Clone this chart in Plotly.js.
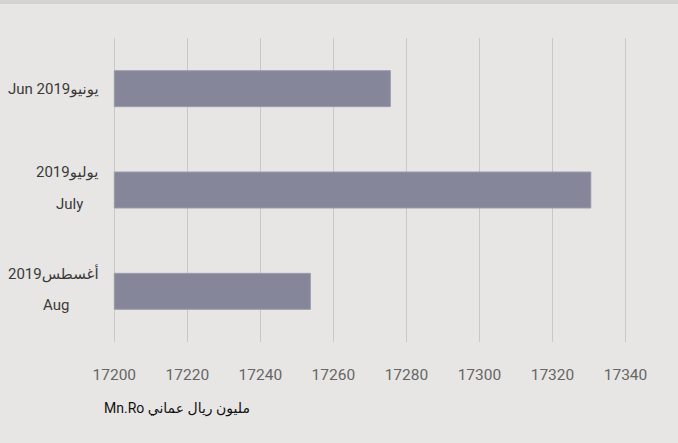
<!DOCTYPE html>
<html>
<head>
<meta charset="utf-8">
<script src="https://cdn.plot.ly/plotly-3.0.1.min.js"></script>
<style>
html,body{margin:0;padding:0;background:#e7e6e4;}
#wrap{width:678px;height:443px;border-top:4px solid #d4d2d2;box-sizing:border-box;}
#chart{width:678px;height:439px;}
</style>
</head>
<body>
<div id="wrap"><div id="chart"></div></div>
<script>
// Data
const categories = ["Jun", "July", "Aug"];
const values = [17275.6, 17330.5, 17253.7];
const labelLine1 = ["Jun 2019يونيو", "يوليو2019", "أغسطس2019"];
const labelLine2 = ["", "July", "Aug"];
const xTicks = [17200, 17220, 17240, 17260, 17280, 17300, 17320, 17340];
const axisTitle = "Mn.Ro مليون ريال عماني";
const axisBase = 17200;

const FONT = "Roboto, 'DejaVu Sans', sans-serif";
const LABEL_SIZE = 15;

function textWidth(t, size) {
  const c = document.createElement('canvas').getContext('2d');
  c.font = size + "px " + FONT;
  return c.measureText(t).width;
}

const annotations = [];
categories.forEach((cat, i) => {
  const two = labelLine2[i] !== "";
  annotations.push({
    xref: 'paper', yref: 'y', x: 0, y: cat,
    xanchor: 'right', yanchor: 'middle', xshift: -6,
    yshift: two ? 18 : 0,
    text: labelLine1[i], showarrow: false,
    font: {family: FONT, size: LABEL_SIZE, color: '#3a3a3a'}
  });
  if (two) {
    const w = textWidth(labelLine1[i], LABEL_SIZE);
    annotations.push({
      xref: 'paper', yref: 'y', x: 0, y: cat,
      xanchor: 'center', yanchor: 'middle', xshift: -6 - w / 2,
      yshift: -14,
      text: labelLine2[i], showarrow: false,
      font: {family: FONT, size: LABEL_SIZE, color: '#3a3a3a'}
    });
  }
});
annotations.push({
  xref: 'paper', yref: 'paper', x: 0, y: 0,
  xanchor: 'left', yanchor: 'middle', xshift: -5, yshift: -66,
  text: axisTitle, showarrow: false,
  font: {family: FONT, size: 14, color: '#111'}
});

const trace = {
  type: 'bar', orientation: 'h',
  base: axisBase,
  x: values.map(v => v - axisBase), y: categories,
  marker: {color: '#86869a', line: {color: '#9b9bac', width: 1}},
  hoverinfo: 'skip'
};

const layout = {
  width: 678, height: 439,
  margin: {l: 107, r: 16, t: 34, b: 101},
  paper_bgcolor: '#e7e6e4', plot_bgcolor: '#e7e6e4',
  showlegend: false,
  bargap: 0.645,
  font: {family: FONT},
  xaxis: {
    range: [17198, 17350],
    tickvals: xTicks, ticktext: xTicks.map(String),
    showgrid: true, gridcolor: '#c8c8c8', gridwidth: 1,
    zeroline: false, showline: false,
    ticks: '', ticklabelstandoff: 21,
    tickfont: {family: FONT, size: 15.5, color: '#666'}
  },
  yaxis: {
    type: 'category', categoryorder: 'array', categoryarray: categories,
    autorange: 'reversed',
    showticklabels: false, showgrid: false, zeroline: false, showline: false, ticks: ''
  },
  annotations: annotations
};

Plotly.newPlot('chart', [trace], layout, {displayModeBar: false, staticPlot: true});
</script>
</body>
</html>
